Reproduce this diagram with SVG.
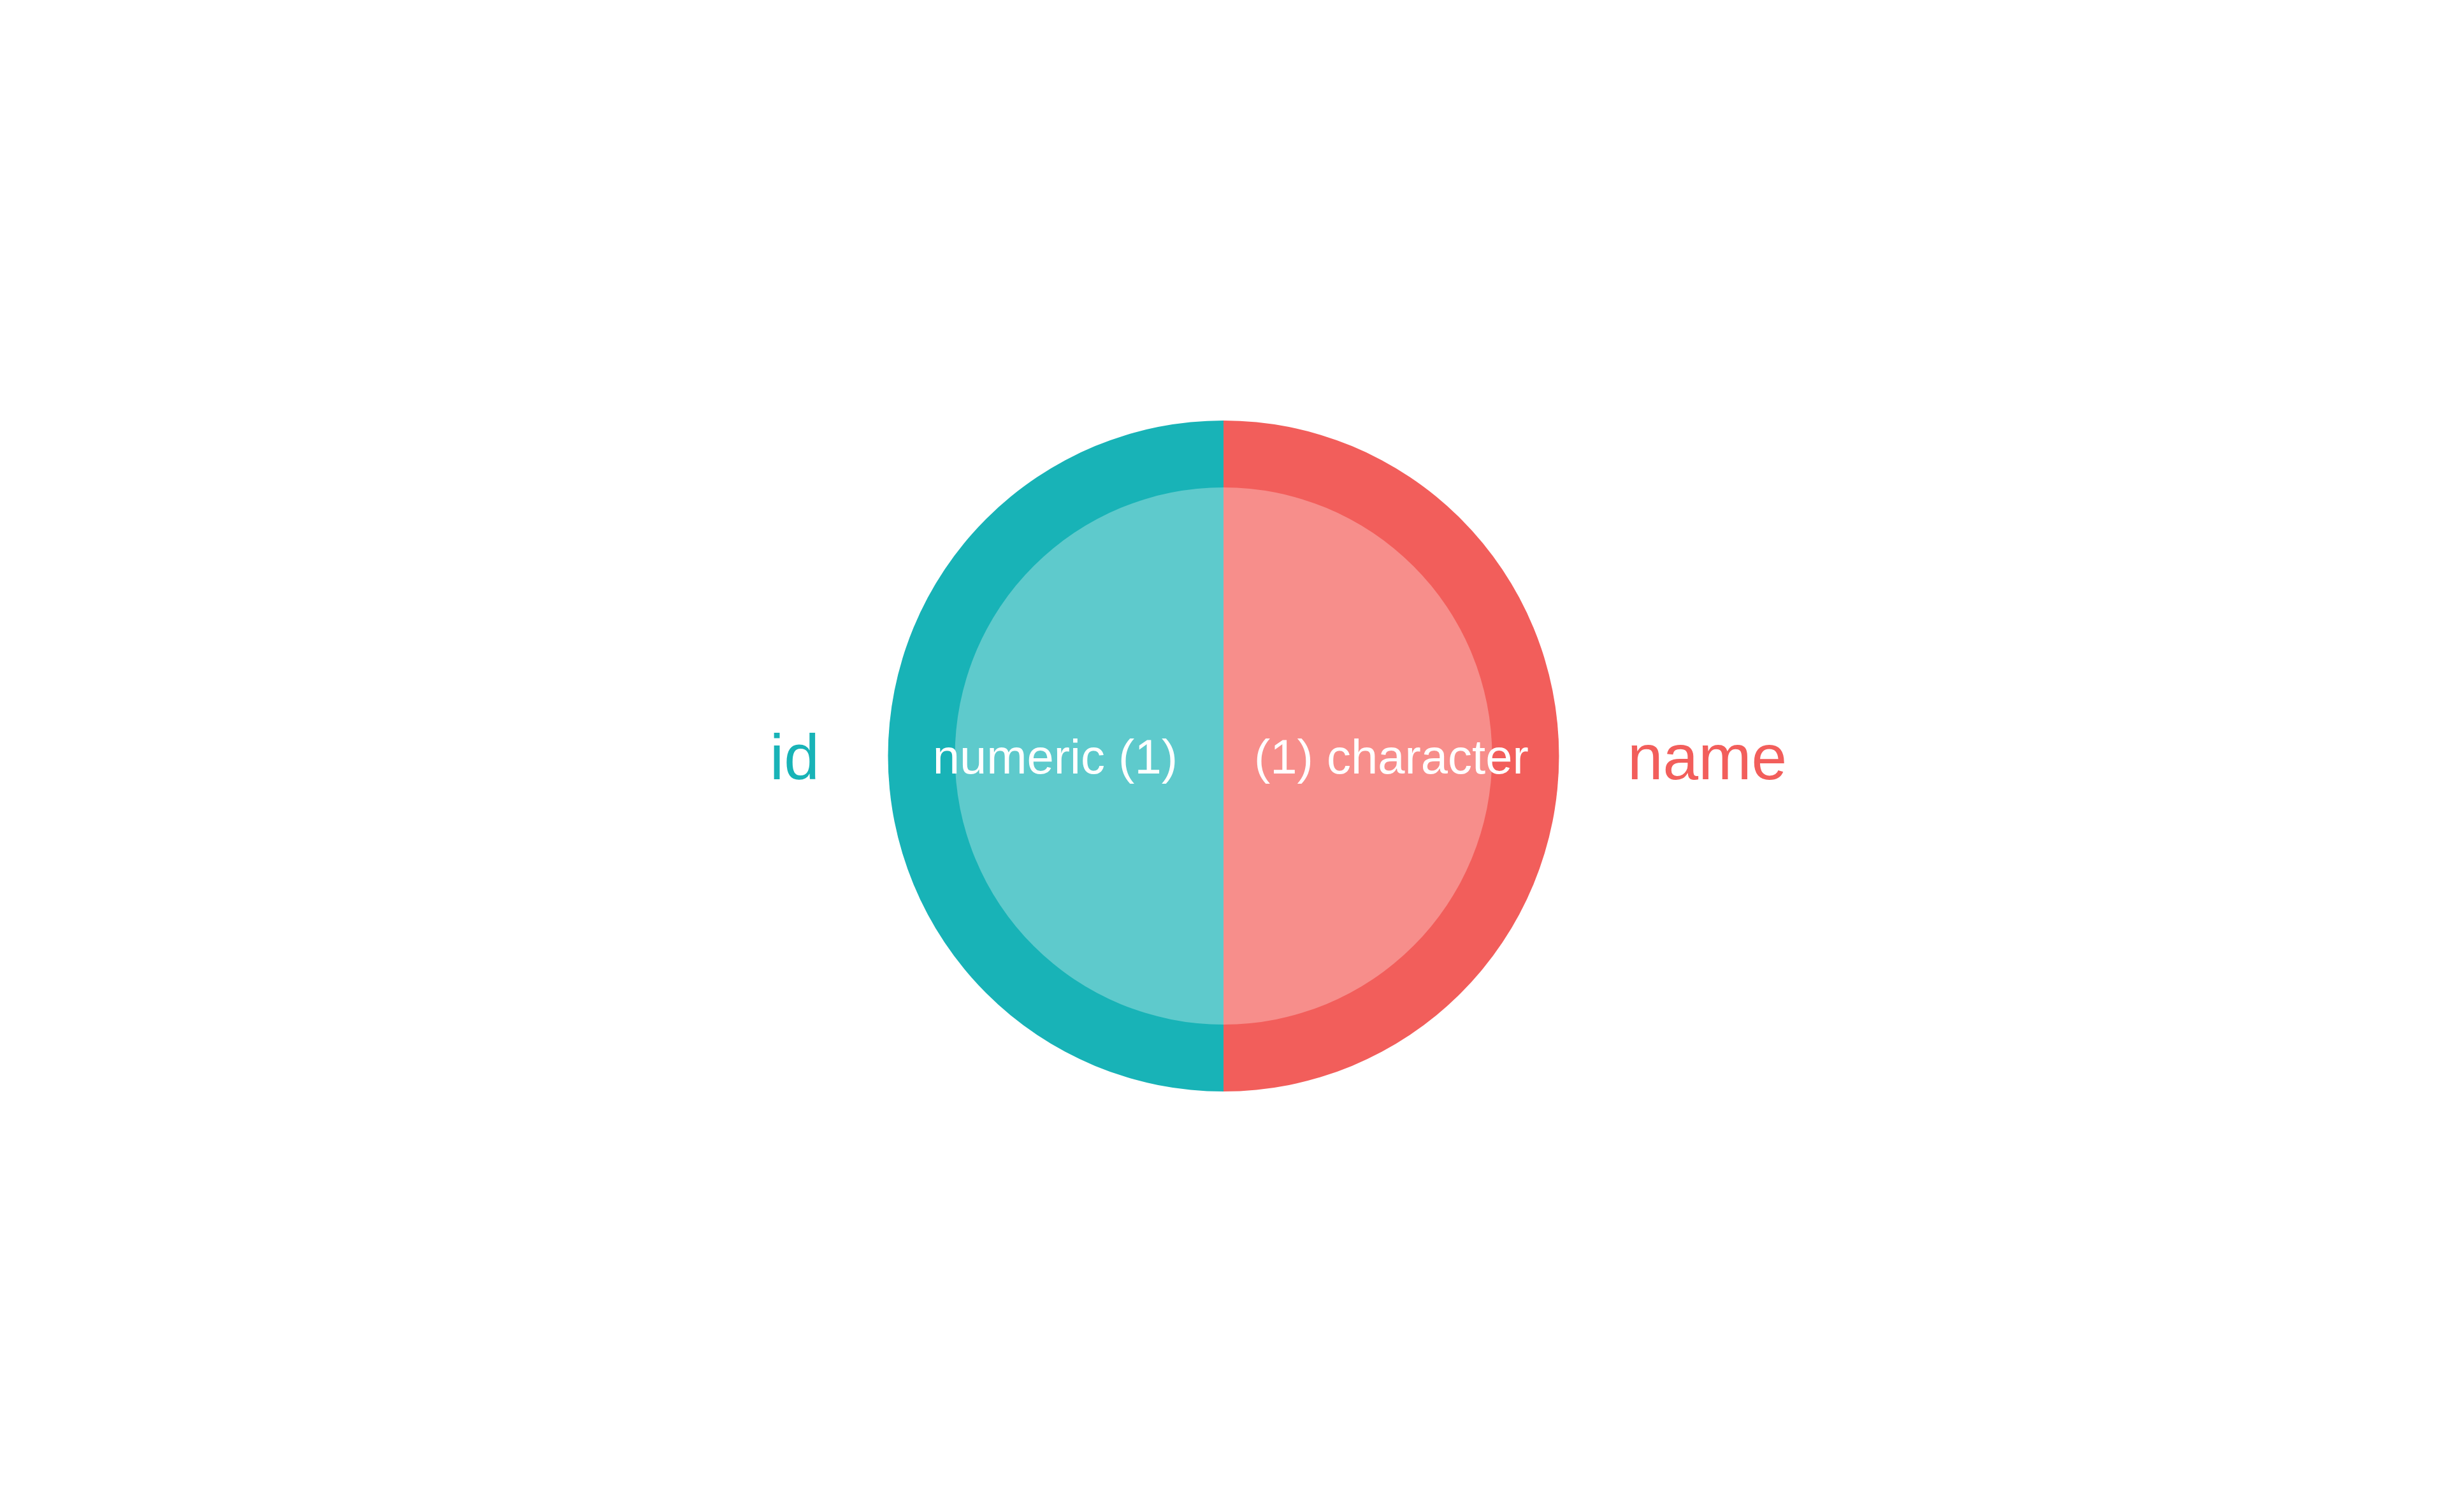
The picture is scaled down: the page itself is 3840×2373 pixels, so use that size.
<svg xmlns="http://www.w3.org/2000/svg" width="3840" height="2373" viewBox="0 0 3840 2373">
<style>
.lbl{font-family:"Liberation Sans",Arial,sans-serif}
.outer{font-size:100px}
.inner{font-size:76px;fill:#FFFFFF}
</style>
<rect width="3840" height="2373" fill="#FFFFFF"/>
<g id="id">
<path d="M1920,660 A526.5,526.5 0 0 0 1920,1713 Z" fill="#18B3B7"/>
<path d="M1920,765 A421.5,421.5 0 0 0 1920,1608 Z" fill="#5ECACC"/>
<text class="lbl outer" x="1247" y="1223" text-anchor="middle" fill="#18B3B7">id</text>
<text class="lbl inner" x="1848" y="1214" text-anchor="end">numeric (1)</text>
</g>
<g id="name">
<path d="M1920,660 A526.5,526.5 0 0 1 1920,1713 Z" fill="#F25E5B"/>
<path d="M1920,765 A421.5,421.5 0 0 1 1920,1608 Z" fill="#F78E8B"/>
<text class="lbl outer" x="2679" y="1223" text-anchor="middle" fill="#F25E5B">name</text>
<text class="lbl inner" x="1968" y="1214" text-anchor="start">(1) character</text>
</g>
<g id="connectors"/>
</svg>
